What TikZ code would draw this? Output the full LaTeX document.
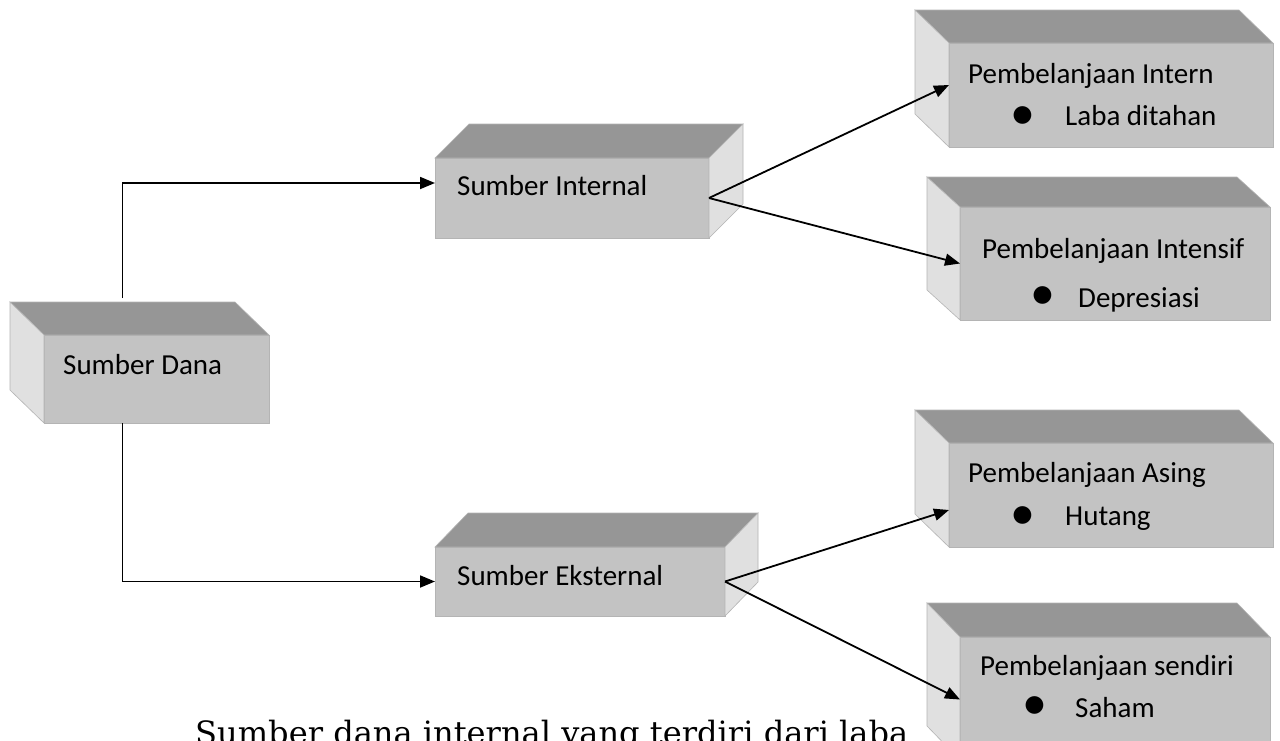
\documentclass[tikz,border=0pt]{standalone}
\usepackage{graphicx}
\usepackage{fontspec}
\setmainfont{Carlito}
\newfontfamily\capfont{DejaVu Serif}
\usetikzlibrary{arrows.meta,calc}
\definecolor{topc}{HTML}{969696}
\definecolor{frontc}{HTML}{C3C3C3}
\definecolor{sidec}{HTML}{E0E0E0}
\definecolor{edgec}{HTML}{B4B4B4}
\tikzset{
  frontface/.style={fill=frontc, draw=edgec, line width=0.6pt, inner sep=0pt, outer sep=0pt, anchor=north west},
  topface/.style={fill=topc, draw=edgec, line width=0.6pt},
  sideface/.style={fill=sidec, draw=edgec, line width=0.6pt},
  lbl/.style={inner sep=0pt, anchor=base west, font=\fontsize{29}{35}\selectfont},
  bul/.style={inner sep=0pt, anchor=center, font=\fontsize{50}{56}\selectfont},
  conn/.style={line width=1.8pt, -{Triangle[length=15pt,width=12pt]}},
}
% cube with the depth shown on the left: name, x, y, w, h, dx, dy
\newcommand\cubeleft[7]{%
  \node[frontface, minimum width=#4pt, minimum height=#5pt] (#1) at (#2,#3) {};
  \filldraw[topface] (#1.north west) -- ++(#6,#7) -- ([shift={(#6,#7)}]#1.north east) -- (#1.north east) -- cycle;
  \filldraw[sideface] (#1.north west) -- ++(#6,#7) -- ([shift={(#6,#7)}]#1.south west) -- (#1.south west) -- cycle;
}
% cube with the depth shown on the right
\newcommand\cuberight[7]{%
  \node[frontface, minimum width=#4pt, minimum height=#5pt] (#1) at (#2,#3) {};
  \filldraw[topface] (#1.north west) -- ++(#6,#7) -- ([shift={(#6,#7)}]#1.north east) -- (#1.north east) -- cycle;
  \filldraw[sideface] (#1.north east) -- ++(#6,#7) -- ([shift={(#6,#7)}]#1.south east) -- (#1.south east) -- cycle;
}
\begin{document}
\begin{tikzpicture}[x=1pt,y=-1pt]
\useasboundingbox[fill=white] (0,0) rectangle (1280,740);

\cubeleft{dana}{44}{335}{225}{88}{-34}{-33}
\cuberight{internal}{435}{158}{274}{80}{34}{-34}
\cuberight{eksternal}{435}{547}{290}{69}{33}{-34}
\cubeleft{intern}{949}{43}{324}{104}{-34}{-33}
\cubeleft{intensif}{960}{207}{310}{113}{-33}{-30}
\cubeleft{asing}{949}{443}{324}{104}{-34}{-33}
\cubeleft{sendiri}{960}{637}{310}{123}{-33}{-34}

\node[lbl] (tdana) at (63,374) {Sumber Dana};
\node[lbl] (tinternal) at (457,195) {Sumber Internal};
\node[lbl] (teksternal) at (457,585) {Sumber Eksternal};

\node[lbl] (tintern) at (968,83) {Pembelanjaan Intern};
\node[bul] (bintern) at (1023,118) {•};
\node[lbl] (lintern) at (1065,125) {Laba ditahan};

\node[lbl] (tintensif) at (982,258) {Pembelanjaan Intensif};
\node[bul] (bintensif) at (1043,298) {•};
\node[lbl] (lintensif) at (1078,307) {Depresiasi};

\node[lbl] (tasing) at (968,482) {Pembelanjaan Asing};
\node[bul] (basing) at (1023,518) {•};
\node[lbl] (lasing) at (1065,525) {Hutang};

\node[lbl] (tsendiri) at (980,675) {Pembelanjaan sendiri};
\node[bul] (bsendiri) at (1035,708) {•};
\node[lbl] (lsendiri) at (1075,717) {Saham};

\draw[conn] ([xshift=-34pt,yshift=37pt]dana.north) |- ([yshift=15pt]internal.west);
\draw[conn] ([xshift=-34pt]dana.south) |- (eksternal.west);
\draw[conn] (internal.east) -- ([yshift=10pt]intern.west);
\draw[conn] (internal.east) -- (intensif.west);
\draw[conn] (eksternal.east) -- ([yshift=-15pt]asing.west);
\draw[conn] (eksternal.east) -- ([yshift=-1pt]sendiri.west);

\node[inner sep=0pt, anchor=base west] (caption) at (195,744) {\resizebox{713pt}{!}{\capfont Sumber dana internal yang terdiri dari laba}};
\end{tikzpicture}
\end{document}
